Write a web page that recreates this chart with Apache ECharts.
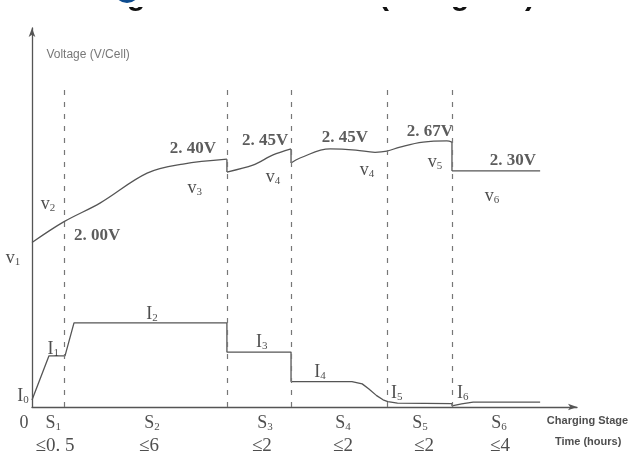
<!DOCTYPE html>
<html>
<head>
<meta charset="utf-8">
<script src="https://cdn.jsdelivr.net/npm/echarts@6/dist/echarts.min.js"></script>
<style>
html,body{margin:0;padding:0;background:#fff;}
#chart{width:630px;height:454px;}
</style>
</head>
<body>
<div id="chart"></div>
<script>
// ---- data (schematic units: x = stage time axis, y = relative level 0-100) ----
const stageBounds = [1.0, 6.08, 8.08, 11.07, 13.1];
const dashTop = 85;

const voltS12 = [[0,43.4],[1.0,48.9],[2.12,53.8],[3.59,61.7],[4.71,64.1],[6.08,65.4]];
const voltS3  = [[6.08,62.0],[6.89,63.8],[7.52,66.5],[8.08,68.1]];
const voltS45 = [[8.08,64.4],[8.36,65.7],[9.3,68.1],[10.1,67.8],[10.7,67.2],[11.07,67.5],[11.48,68.6],[12.2,69.9],[12.94,70.2],[13.1,69.9]];
const voltS6  = [[13.1,62.3],[15.85,62.3]];

const current = [[0,1.85],[0.53,13.5],[1.03,13.5],[1.31,22.2],[6.08,22.2],[6.08,14.5],[8.08,14.5],[8.08,6.7],
  [9.98,6.7],[10.3,6.1],[10.5,4.8],[10.75,3.0],[10.95,1.9],[11.1,1.4],[11.4,1.0],[13.1,0.9],[13.1,0.3],
  [13.4,0.8],[13.76,1.3],[15.85,1.3]];

const voltValueLabels = [
  [2.03,45.1,'2. 00V'],[5.02,68.3,'2. 40V'],[7.27,70.4,'2. 45V'],[9.76,71.2,'2. 45V'],
  [12.41,72.6,'2. 67V'],[15.0,64.9,'2. 30V']
];
const voltNameLabels = [
  [-0.59,39.3,'v{s|1}'],[0.5,53.6,'v{s|2}'],[5.08,57.8,'v{s|3}'],[7.52,60.7,'v{s|4}'],
  [10.45,62.5,'v{s|4}'],[12.57,64.6,'v{s|5}'],[14.35,55.7,'v{s|6}']
];
const currLabels = [
  [-0.28,2.9,'I{s|0}'],[0.66,15.3,'I{s|1}'],[3.74,24.5,'I{s|2}'],[7.17,17.2,'I{s|3}'],
  [8.98,9.2,'I{s|4}'],[11.38,3.7,'I{s|5}'],[13.44,3.7,'I{s|6}']
];
const stageLabels = [
  [-0.25,-4.2,'0'],[0.66,-4.2,'S{s|1}'],[3.74,-4.2,'S{s|2}'],[7.27,-4.2,'S{s|3}'],
  [9.7,-4.2,'S{s|4}'],[12.1,-4.2,'S{s|5}'],[14.57,-4.2,'S{s|6}']
];
const timeLabels = [
  [0.72,-10.3,'≤0. 5'],[3.65,-10.3,'≤6'],[7.17,-10.3,'≤2'],[9.7,-10.3,'≤2'],[12.23,-10.3,'≤2'],[14.6,-10.3,'≤4']
];
const axisTexts = [
  [1.75,92.9,'Voltage (V/Cell)'],
];
const xAxisTexts = [
  [16.06,-3.7,'Charging Stage'],[16.31,-9.3,'Time (hours)']
];

const lineColor = '#555';
const serifRich = { s: { fontSize: 11, padding: [8,0,0,0], fontFamily: 'Liberation Serif', color: '#222' } };

function lineSeries(data, smooth) {
  return { type: 'line', data: data, symbol: 'none', smooth: smooth, silent: true,
    lineStyle: { color: lineColor, width: 1.3 }, z: 3 };
}
function dropSeries(a, b) {
  // vertical step between consecutive voltage segments
  const end = a[a.length - 1], start = b[0];
  return { type: 'line', data: [end, start], symbol: 'none', silent: true,
    lineStyle: { color: lineColor, width: 1.3 }, z: 3 };
}
function labelSeries(data, style) {
  return { type: 'scatter', data: data, symbolSize: 0, clip: false, silent: true, z: 5,
    label: Object.assign({ show: true, position: 'inside', formatter: p => p.data[2], rich: serifRich }, style) };
}

const titleFont = 'bold 30px "Liberation Sans"';
const chart = echarts.init(document.getElementById('chart'));
chart.setOption({
  animation: false,
  grid: { left: 32, top: 28, right: 53, bottom: 47 },
  xAxis: { type: 'value', min: 0, max: 17,
    axisLine: { show: true, onZero: false, symbol: ['none','arrow'], symbolSize: [5,9], lineStyle: { color: lineColor, width: 1.3 } },
    axisTick: { show: false }, axisLabel: { show: false }, splitLine: { show: false } },
  yAxis: { type: 'value', min: 0, max: 100,
    axisLine: { show: true, onZero: false, symbol: ['none','arrow'], symbolSize: [5,9], lineStyle: { color: lineColor, width: 1.3 } },
    axisTick: { show: false }, axisLabel: { show: false }, splitLine: { show: false } },
  graphic: [
    // cut-off title at the very top of the picture: only glyph tails remain visible
    { type: 'text', z: 1, style: { text: 'g', x: 127, y: -3, font: titleFont, fill: '#111', verticalAlign: 'middle' } },
    { type: 'text', z: 1, style: { text: '(', x: 379, y: -3, font: titleFont, fill: '#111', verticalAlign: 'middle' } },
    { type: 'text', z: 1, style: { text: 'g', x: 451, y: -3, font: titleFont, fill: '#111', verticalAlign: 'middle' } },
    { type: 'text', z: 1, style: { text: ')', x: 525, y: -3, font: titleFont, fill: '#111', verticalAlign: 'middle' } },
    { type: 'rect', z: 2, shape: { x: 110, y: -10, width: 450, height: 17 }, style: { fill: '#fff' } },
    { type: 'circle', z: 3, shape: { cx: 127, cy: -10, r: 13 }, style: { fill: '#0e4c8f' } }
  ],
  series: [
    { type: 'line', data: [], symbol: 'none', silent: true,
      markLine: { silent: true, symbol: 'none', label: { show: false },
        lineStyle: { type: [5,7], color: '#777', width: 1.2 },
        data: stageBounds.map(b => [{ coord: [b, 0] }, { coord: [b, dashTop] }]) } },
    lineSeries(voltS12, 0.35),
    lineSeries(voltS3, 0.3),
    lineSeries(voltS45, 0.4),
    lineSeries(voltS6, false),
    dropSeries(voltS12, voltS3),
    dropSeries(voltS3, voltS45),
    dropSeries(voltS45, voltS6),
    lineSeries(current, false),
    labelSeries(voltValueLabels, { fontFamily: 'Liberation Serif', fontSize: 17, fontWeight: 'bold', color: '#333' }),
    labelSeries(voltNameLabels, { fontFamily: 'Liberation Serif', fontSize: 18, color: '#222' }),
    labelSeries(currLabels, { fontFamily: 'Liberation Serif', fontSize: 18, color: '#222' }),
    labelSeries(stageLabels, { fontFamily: 'Liberation Serif', fontSize: 18, color: '#222' }),
    labelSeries(timeLabels, { fontFamily: 'Liberation Serif', fontSize: 19, color: '#222' }),
    labelSeries(axisTexts, { fontFamily: 'Liberation Sans', fontSize: 12, color: '#555' }),
    labelSeries(xAxisTexts, { fontFamily: 'Liberation Sans', fontSize: 11, fontWeight: 'bold', color: '#222', align: 'left' })
  ]
});
</script>
</body>
</html>
